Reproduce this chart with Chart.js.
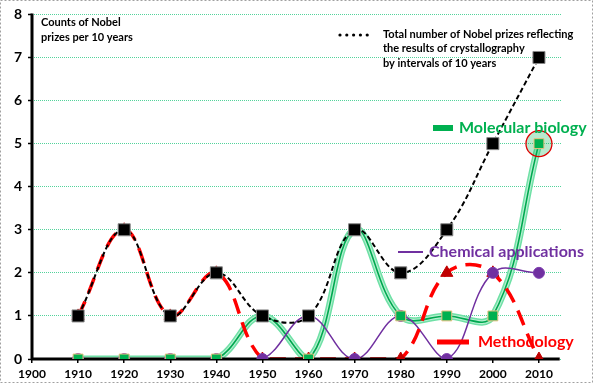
<!DOCTYPE html>
<html><head><meta charset="utf-8">
<script src="https://cdn.jsdelivr.net/npm/chart.js@4.4.0/dist/chart.umd.min.js"></script>
<style>html,body{margin:0;padding:0;background:#fff;}#wrap{width:616px;height:386px;position:relative;}</style>
</head><body><div id="wrap"><canvas id="c" width="616" height="386"></canvas></div>
<script>
const years = [1910, 1920, 1930, 1940, 1950, 1960, 1970, 1980, 1990, 2000, 2010];
const totalPrizes = [1, 3, 1, 2, 1, 1, 3, 2, 3, 5, 7];
const methodology = [1, 3, 1, 2, 0, 0, 0, 0, 2, 2, 0];
const molecularBiology = [0, 0, 0, 0, 1, 0, 3, 1, 1, 1, 5];
const chemicalApplications = [0, 0, 0, 0, 0, 1, 0, 1, 0, 2, 2];
const xTickValues = [1900, 1910, 1920, 1930, 1940, 1950, 1960, 1970, 1980, 1990, 2000, 2010];
const yTickValues = [0, 1, 2, 3, 4, 5, 6, 7, 8];
const highlightYear = [2010];
const highlightValue = [5];

const pts = (xs, ys) => xs.map((x, i) => ({x: x, y: ys[i]}));
const FONT = 'Lato, "Open Sans", sans-serif';
const TENSION = 0.4;

function lineDs(label, ys, color, width, dash, order) {
  return {label, type: 'line', data: pts(years, ys), borderColor: color, borderWidth: width,
    borderDash: dash, pointRadius: 0, fill: false, tension: TENSION, order, borderCapStyle: 'butt'};
}
function markerDs(label, ys, style, radius, fill, border, bw, order) {
  return {label, type: 'line', data: pts(years, ys), showLine: false, pointStyle: style,
    pointRadius: radius, pointBackgroundColor: fill, pointBorderColor: border, pointBorderWidth: bw, order};
}

const datasets = [
  lineDs('greenOuter', molecularBiology, '#6fe0a6', 7, [], 10),
  lineDs('greenMid', molecularBiology, '#b5f0d0', 4, [], 9.5),
  lineDs('greenInner', molecularBiology, '#00a850', 1.6, [], 9),
  lineDs('purpleLine', chemicalApplications, '#7030a0', 1.5, [], 8),
  lineDs('redLine', methodology, '#ff0000', 3.5, [16, 9], 7),
  lineDs('blackLine', totalPrizes, '#000000', 2, [5, 3], 6),
  markerDs('redTri', methodology, 'triangle', 7, '#c00000', '#c00000', 1, 5),
  markerDs('purpleDot', chemicalApplications, 'circle', 5.5, '#7030a0', '#7f3fb0', 1, 4),
  {label: 'highlight', type: 'line', data: pts(highlightYear, highlightValue), showLine: false,
    pointStyle: 'circle', pointRadius: 13, pointBackgroundColor: 'rgba(0,176,80,0.28)',
    pointBorderColor: '#e00000', pointBorderWidth: 1.3, order: 3.5},
  markerDs('greenSq', molecularBiology, 'rect', 7, '#00b050', '#e8c080', 1, 3),
  markerDs('blackSq', totalPrizes, 'rect', 8.5, '#000000', '#888888', 1, 1)
];

const framePlugin = {
  id: 'frame',
  beforeDraw(chart) {
    const ctx = chart.ctx;
    ctx.save();
    ctx.fillStyle = '#fff';
    ctx.fillRect(0, 0, chart.width, chart.height);
    ctx.strokeStyle = '#a0a0a0';
    ctx.lineWidth = 1;
    ctx.setLineDash([2, 2]);
    ctx.strokeRect(0.5, 0.5, 592, 382);
    ctx.restore();
  },
  afterDatasetDraw(chart, args) {
    if (chart.data.datasets[args.index].label !== 'blackLine') return;
    const ctx = chart.ctx, a = chart.chartArea, xs = chart.scales.x, ys = chart.scales.y;
    ctx.save();
    ctx.strokeStyle = '#000';
    ctx.lineWidth = 3;
    ctx.setLineDash([]);
    ctx.beginPath();
    const y0 = ys.getPixelForValue(0);
    ctx.moveTo(a.left - 1, y0);
    ctx.lineTo(xs.getPixelForValue(2014.5), y0);
    ctx.stroke();
    ctx.beginPath();
    ctx.moveTo(a.left, ys.getPixelForValue(8) - 1);
    ctx.lineTo(a.left, y0 + 1);
    ctx.stroke();
    ctx.restore();
  },
  afterDraw(chart) {
    const ctx = chart.ctx;
    ctx.save();
    ctx.textBaseline = 'middle';
    ctx.textAlign = 'left';
    ctx.fillStyle = '#000';
    ctx.font = 'bold 11px ' + FONT;
    ctx.fillText('Counts of Nobel', 41, 22);
    ctx.fillText('prizes per 10 years', 41, 37);
    ctx.fillText('Total number of Nobel prizes reflecting', 383, 34);
    ctx.fillText('the results of crystallography', 383, 48);
    ctx.fillText('by intervals of 10 years', 383, 63);
    for (let i = 0; i < 5; i++) {
      ctx.beginPath();
      ctx.arc(340 + i * 6.8, 35, 1.6, 0, Math.PI * 2);
      ctx.fill();
    }
    ctx.fillStyle = '#00b050';
    ctx.fillRect(433, 125, 20, 6);
    ctx.font = 'bold 16px ' + FONT;
    ctx.fillText('Molecular biology', 459, 128);
    ctx.strokeStyle = '#7030a0';
    ctx.lineWidth = 2;
    ctx.beginPath(); ctx.moveTo(398, 252); ctx.lineTo(423, 252); ctx.stroke();
    ctx.fillStyle = '#7030a0';
    ctx.fillText('Chemical applications', 429, 252);
    ctx.strokeStyle = '#ff0000';
    ctx.lineWidth = 5;
    ctx.beginPath(); ctx.moveTo(437, 342); ctx.lineTo(469, 342); ctx.stroke();
    ctx.fillStyle = '#ff0000';
    ctx.fillText('Methodology', 478, 342);
    ctx.restore();
  }
};

new Chart(document.getElementById('c'), {
  type: 'line',
  data: {datasets},
  plugins: [framePlugin],
  options: {
    responsive: false, animation: false, devicePixelRatio: 1,
    layout: {padding: {top: 9, right: 54, left: 0, bottom: 0}},
    plugins: {legend: {display: false}, tooltip: {enabled: false}},
    scales: {
      x: {
        type: 'linear', min: 1900, max: 2015,
        afterBuildTicks: s => { s.ticks = xTickValues.map(v => ({value: v})); },
        afterFit: s => { s.height = 27; },
        grid: {display: true, drawOnChartArea: false, tickLength: 4, tickColor: '#000', lineWidth: 1.5},
        border: {display: false},
        ticks: {color: '#000', font: {family: FONT, size: 12, weight: 'bold'}, padding: 4, maxRotation: 0,
          autoSkip: false, callback: v => String(v)}
      },
      y: {
        min: 0, max: 8,
        afterBuildTicks: s => { s.ticks = yTickValues.map(v => ({value: v})); },
        afterFit: s => { s.width = 32; },
        grid: {color: 'rgba(40,200,130,0.8)', lineWidth: 1, tickColor: '#000', tickLength: 4,
          tickBorderDash: [], tickWidth: 1.5},
        border: {display: false, dash: [1, 1]},
        ticks: {color: '#000', font: {family: FONT, size: 14, weight: 'bold'}, padding: 6, callback: v => String(v)}
      }
    }
  }
});
</script>
</body></html>
